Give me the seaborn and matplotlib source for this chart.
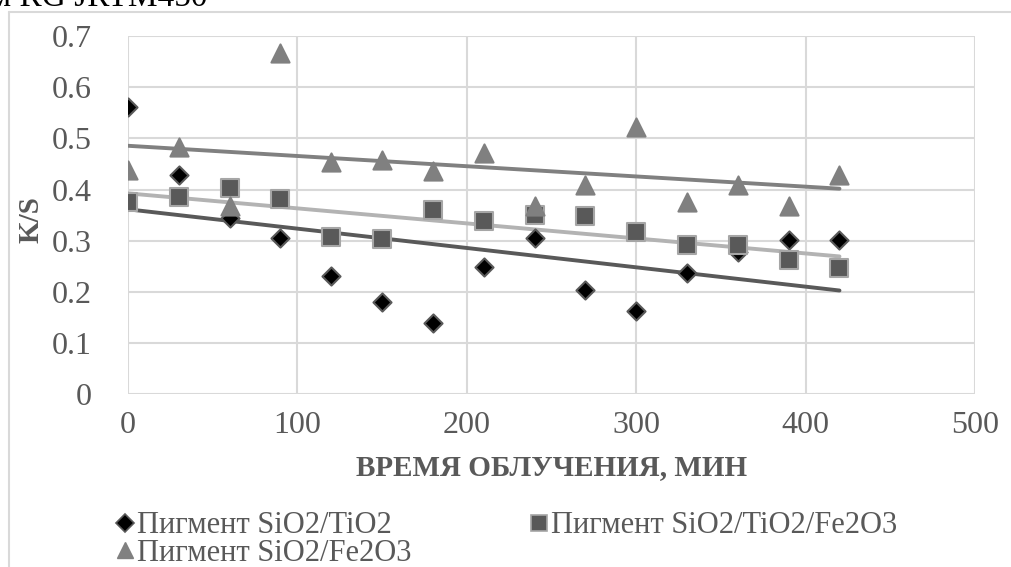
import numpy as np
import pandas as pd
import matplotlib
matplotlib.use("Agg")
import matplotlib.pyplot as plt
from matplotlib.lines import Line2D
import seaborn as sns

# ---- data ----
time_min = [0, 30, 60, 90, 120, 150, 180, 210, 240, 270, 300, 330, 360, 390, 420]
ks_sio2_tio2 = [0.562, 0.428, 0.345, 0.305, 0.232, 0.181, 0.139, 0.249, 0.305,
                0.204, 0.162, 0.238, 0.279, 0.302, 0.302]
ks_sio2_tio2_fe2o3 = [0.376, 0.386, 0.404, 0.382, 0.308, 0.303, 0.360, 0.339, 0.350,
                      0.348, 0.318, 0.292, 0.292, 0.262, 0.246]
ks_sio2_fe2o3 = [0.438, 0.484, 0.367, 0.666, 0.453, 0.458, 0.437, 0.472, 0.368,
                 0.409, 0.523, 0.375, 0.409, 0.368, 0.428]
series_names = ["Пигмент SiO2/TiO2", "Пигмент SiO2/TiO2/Fe2O3", "Пигмент SiO2/Fe2O3"]
x_ticks = [0, 100, 200, 300, 400, 500]
y_ticks = [0, 0.1, 0.2, 0.3, 0.4, 0.5, 0.6, 0.7]
y_tick_labels = ["0", "0.1", "0.2", "0.3", "0.4", "0.5", "0.6", "0.7"]

sns.set_theme(style="white")
plt.rcParams["font.family"] = ["Liberation Serif", "DejaVu Serif"]

TXT = "#595959"
fig = plt.figure(figsize=(10.12, 5.67), dpi=100)
ax = fig.add_axes([128 / 1012, 1 - 394.4 / 567, (975 - 128) / 1012, (394.4 - 36) / 567])

styles = [
    dict(marker="D", color="#000000", edge="#595959", s=85, line="#595959"),
    dict(marker="s", color="#595959", edge="#a6a6a6", s=150, line="#b3b3b3"),
    dict(marker="^", color="#808080", edge="#808080", s=170, line="#808080"),
]
data_sets = [ks_sio2_tio2, ks_sio2_tio2_fe2o3, ks_sio2_fe2o3]

for i, (vals, st) in enumerate(zip(data_sets, styles)):
    df = pd.DataFrame({"t": time_min, "ks": vals})
    sns.scatterplot(data=df, x="t", y="ks", ax=ax, marker=st["marker"], s=st["s"],
                    color=st["color"], edgecolor=st["edge"], linewidth=1.5,
                    zorder=3 + i, legend=False)

for vals, st in zip(data_sets, styles):
    df = pd.DataFrame({"t": time_min, "ks": vals})
    sns.regplot(data=df, x="t", y="ks", ax=ax, scatter=False, ci=None, truncate=True,
                line_kws=dict(color=st["line"], lw=2.8, zorder=2.5))

ax.set_xlim(0, 500)
ax.set_ylim(0, 0.7)
ax.set_xticks(x_ticks)
ax.set_yticks(y_ticks)
ax.set_yticklabels(y_tick_labels)
ax.grid(True, color="#d9d9d9", lw=1.5)
ax.set_axisbelow(True)
for sp in ax.spines.values():
    sp.set_visible(False)
ax.tick_params(axis="both", length=0, labelsize=23, labelcolor=TXT)
ax.tick_params(axis="x", pad=12)
ax.tick_params(axis="y", pad=26)
ax.set_xlabel("ВРЕМЯ ОБЛУЧЕНИЯ, МИН", fontsize=21, fontweight="bold", color=TXT, labelpad=10)
ax.set_ylabel("K/S", fontsize=21, fontweight="bold", color=TXT)
ax.yaxis.set_label_coords((45 - 128) / 847, (394.4 - 220) / 358.4)

handles = [
    Line2D([], [], ls="", marker="D", ms=9, color="#000000", mec="#595959", mew=1.2),
    Line2D([], [], ls="", marker="s", ms=11, color="#595959", mec="#a6a6a6", mew=1.2),
    Line2D([], [], ls="", marker="^", ms=12, color="#808080", mec="#808080"),
]
order = [0, 2, 1]  # legend fills column-wise; gives rows: (0, 1), (2)
leg = fig.legend([handles[k] for k in order], [series_names[k] for k in order],
                 ncol=2, loc="upper left",
                 bbox_to_anchor=(104 / 1012, 1 - 499 / 567), frameon=False,
                 fontsize=22, handlelength=0.55, handletextpad=0.12,
                 columnspacing=3.9, labelspacing=-0.05, borderaxespad=0)
for t in leg.get_texts():
    t.set_color(TXT)

# chart frame (left and top edges visible)
fig.add_artist(Line2D([9 / 1012, 9 / 1012], [0, 1 - 12 / 567], color="#d9d9d9", lw=1.5,
                      transform=fig.transFigure))
fig.add_artist(Line2D([9 / 1012, 1], [1 - 12 / 567, 1 - 12 / 567], color="#d9d9d9", lw=1.5,
                      transform=fig.transFigure))
# clipped title remnant (cut off at the top, as in the reference)
fig.text(-0.01, 1 - 6 / 567, "м RG JRTM450", fontsize=24, color="#000000",
         ha="left", va="baseline")

fig.savefig("out.png", dpi=100)
